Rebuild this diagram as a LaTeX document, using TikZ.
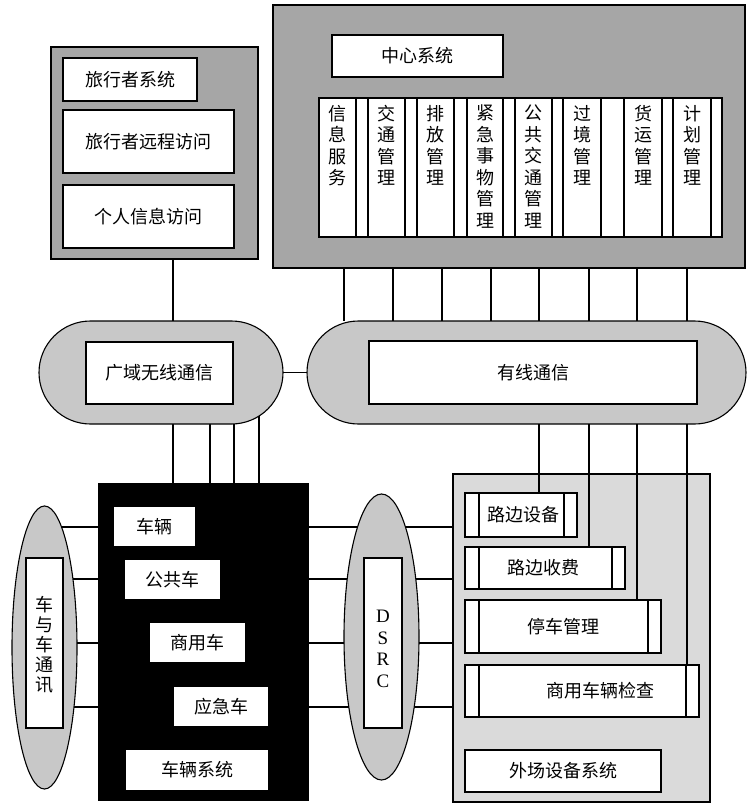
\documentclass[tikz,border=0pt]{standalone}
\usepackage{fontspec}
\newfontfamily\cjk{Noto Sans CJK SC}
\newfontfamily\latinserif{Liberation Serif}
\usetikzlibrary{shapes.geometric,backgrounds,calc}
\definecolor{darkgr}{HTML}{A6A6A6}
\definecolor{midgr}{HTML}{C8C8C8}
\definecolor{lightgr}{HTML}{DADADA}
\tikzset{
 every node/.style={inner sep=0pt, outer sep=0pt},
 panel/.style={draw, line width=1.1pt, fill=darkgr},
 wbox/.style={draw, line width=1.1pt, fill=white, font=\cjk\fontsize{18}{21}\selectfont},
 pill/.style={draw, line width=1.1pt, fill=midgr, rounded corners=51.5pt},
 oval/.style={draw, ellipse, line width=1.1pt, fill=midgr},
 link/.style={line width=1.1pt},
 vtext/.style={align=center, font=\cjk\fontsize{18}{21.5}\selectfont},
}
\begin{document}
\begin{tikzpicture}[x=1pt,y=-1pt]
\useasboundingbox (0,0) rectangle (749,809);
% ---------- central system ----------
\node[panel, minimum width=472pt, minimum height=263pt] (central) at (509,136.5) {};
\node[wbox, minimum width=171pt, minimum height=42pt] (zx) at (417.5,56) {中心系统};
\node[wbox, minimum width=403pt, minimum height=139pt] (strip) at (520.5,167.5) {};
\node[wbox, minimum width=37pt, minimum height=139pt] (c1) at (337.5,167.5) {};
\node[wbox, minimum width=37pt, minimum height=139pt] (c2) at (386.5,167.5) {};
\node[wbox, minimum width=37pt, minimum height=139pt] (c3) at (435.5,167.5) {};
\node[wbox, minimum width=36pt, minimum height=139pt] (c4) at (485,167.5) {};
\node[wbox, minimum width=37pt, minimum height=139pt] (c5) at (533.5,167.5) {};
\node[wbox, minimum width=38pt, minimum height=139pt] (c6) at (582,167.5) {};
\node[wbox, minimum width=38pt, minimum height=139pt] (c7) at (643,167.5) {};
\node[wbox, minimum width=38pt, minimum height=139pt] (c8) at (692,167.5) {};
\node[vtext, anchor=north] (c1t) at ([yshift=-7pt]c1.north) {信\\息\\服\\务};
\node[vtext, anchor=north] (c2t) at ([yshift=-7pt]c2.north) {交\\通\\管\\理};
\node[vtext, anchor=north] (c3t) at ([yshift=-7pt]c3.north) {排\\放\\管\\理};
\node[vtext, anchor=north] (c4t) at ([yshift=-7pt]c4.north) {紧\\急\\事\\物\\管\\理};
\node[vtext, anchor=north] (c5t) at ([yshift=-7pt]c5.north) {公\\共\\交\\通\\管\\理};
\node[vtext, anchor=north] (c6t) at ([yshift=-7pt]c6.north) {过\\境\\管\\理};
\node[vtext, anchor=north] (c7t) at ([yshift=-7pt]c7.north) {货\\运\\管\\理};
\node[vtext, anchor=north] (c8t) at ([yshift=-7pt]c8.north) {计\\划\\管\\理};
% ---------- traveler system ----------
\node[panel, minimum width=207pt, minimum height=212pt] (traveler) at (154.5,153) {};
\node[wbox, minimum width=134pt, minimum height=43pt] (t1) at (130,79.5) {旅行者系统};
\node[wbox, minimum width=171pt, minimum height=63pt] (t2) at (148.5,141.5) {旅行者远程访问};
\node[wbox, minimum width=171pt, minimum height=63pt] (t3) at (148.5,216.5) {个人信息访问};
% ---------- communication pills ----------
\node[pill, minimum width=244pt, minimum height=103pt] (wide) at (161,372.5) {};
\node[wbox, minimum width=147pt, minimum height=62pt] (widein) at (159.5,373) {广域无线通信};
\node[pill, minimum width=439pt, minimum height=103pt] (wired) at (526.5,372.5) {};
\node[wbox, minimum width=328pt, minimum height=63pt] (wiredin) at (533,372.5) {有线通信};
% ---------- vehicle system ----------
\node[draw, line width=1.1pt, fill=black, minimum width=209pt, minimum height=316pt] (vehicle) at (203.5,642) {};
\node[wbox, minimum width=83pt, minimum height=41pt] (v1) at (154.5,526.5) {车辆};
\node[wbox, minimum width=97pt, minimum height=41pt] (v2) at (172.5,579.5) {公共车};
\node[wbox, minimum width=97pt, minimum height=41pt] (v3) at (197.5,642.5) {商用车};
\node[wbox, minimum width=96pt, minimum height=41pt] (v4) at (221,706.5) {应急车};
\node[wbox, minimum width=144pt, minimum height=42pt] (v5) at (197,770) {车辆系统};
% ---------- vehicle-to-vehicle ----------
\node[oval, minimum width=65pt, minimum height=283pt] (v2v) at (44.5,647.5) {};
\node[wbox, minimum width=37pt, minimum height=170pt] (v2vin) at (44.5,643) {};
\node[align=center, font=\cjk\fontsize{18}{20}\selectfont] (v2vt) at (44.5,645) {车\\与\\车\\通\\讯};
% ---------- DSRC ----------
\node[oval, minimum width=75pt, minimum height=286pt] (dsrc) at (381.5,637) {};
\node[wbox, minimum width=38pt, minimum height=170pt] (dsrcin) at (383,643) {};
\node[align=center, font=\latinserif\fontsize{19}{21.5}\selectfont] (dsrct) at (383,649) {D\\S\\R\\C};
% ---------- roadside system ----------
\node[draw, line width=1.1pt, fill=lightgr, minimum width=257pt, minimum height=328pt] (roadside) at (581.5,638) {};
\node[wbox, minimum width=112pt, minimum height=44pt] (r1) at (521,515) {};
\node[wbox, minimum width=160pt, minimum height=42pt] (r2) at (545,568) {};
\node[wbox, minimum width=196pt, minimum height=53pt] (r3) at (563,626.5) {};
\node[wbox, minimum width=234pt, minimum height=52pt] (r4) at (582,691) {};
\node[wbox, minimum width=196pt, minimum height=42pt] (r5) at (563,771) {外场设备系统};
\foreach \n in {r1,r2,r3,r4}{
  \draw[link] ([xshift=14pt]\n.north west) -- ([xshift=14pt]\n.south west);
  \draw[link] ([xshift=-13pt]\n.north east) -- ([xshift=-13pt]\n.south east);
}
\node[font=\cjk\fontsize{18}{21}\selectfont] (r1t) at (523,515) {路边设备};
\node[font=\cjk\fontsize{18}{21}\selectfont] (r2t) at (543,568) {路边收费};
\node[font=\cjk\fontsize{18}{21}\selectfont] (r3t) at (563,626.5) {停车管理};
\node[font=\cjk\fontsize{18}{21}\selectfont] (r4t) at (600,691) {商用车辆检查};
% ---------- connectors ----------
\draw[link] (traveler.south -| 173,0) -- (wide.north -| 173,0);
\draw[link] (wide.east) -- (wired.west);
\foreach \x in {344,393,442,491,539,589,637,687}
  \draw[link] (central.south -| \x,0) -- (wired.north -| \x,0);
\draw[link] (wired.south -| 539,0) -- (r1.north -| 539,0);
\draw[link] (wired.south -| 589,0) -- (r2.north -| 589,0);
\draw[link] (wired.south -| 637,0) -- (r3.north -| 637,0);
\draw[link] (wired.south -| 687,0) -- (r4.north -| 687,0);
\begin{scope}[on background layer]
  \foreach \x in {173,210,234,259}
    \draw[link] (wide.center -| \x,0) -- (vehicle.north -| \x,0);
  \foreach \y in {527,579,643,707}{
    \draw[link] (v2v.center |- 0,\y) -- (vehicle.west |- 0,\y);
    \draw[link] (vehicle.east |- 0,\y) -- (dsrc.center |- 0,\y);
    \draw[link] (dsrc.center |- 0,\y) -- (roadside.west |- 0,\y);
  }
\end{scope}
\end{tikzpicture}
\end{document}
